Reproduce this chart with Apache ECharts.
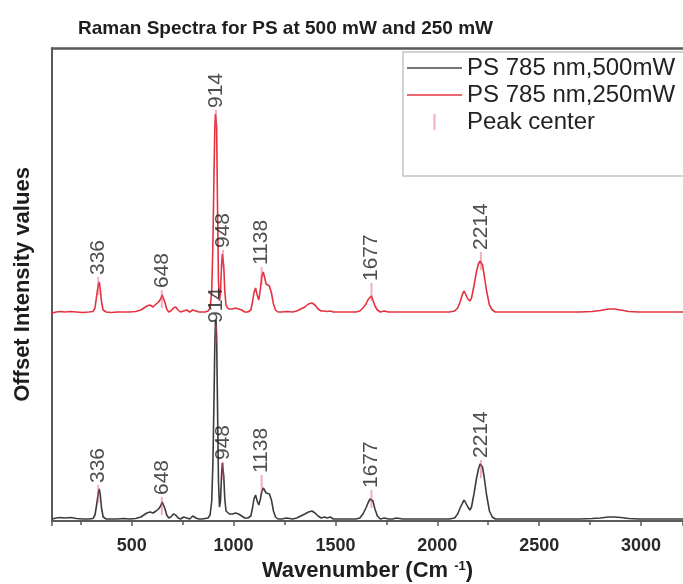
<!DOCTYPE html>
<html>
<head>
<meta charset="utf-8">
<script src="https://cdn.jsdelivr.net/npm/echarts@6/dist/echarts.min.js"></script>
<style>
html,body{margin:0;padding:0;background:#fff;}
#chart{width:683px;height:584px;}
</style>
</head>
<body>
<div id="chart"></div>
<script>
// ---- data ----
const seriesNames = ['PS 785 nm,500mW', 'PS 785 nm,250mW', 'Peak center'];

// [wavenumber, offset intensity] for 500 mW (lower trace)
const spectrum500 = [[109,2],[130,3],[150,3.5],[170,3],[200,3.5],[230,2.5],[260,2],[290,2],[310,2.5],[320,6],[328,16],[336,28],[341,32],[346,26],[352,13],[360,4],[375,2],[400,2],[430,2],[460,2.5],[490,2],[520,2.5],[545,4],[560,6],[575,8],[590,9],[605,8],[620,10],[632,12],[642,15],[650,19],[656,17],[664,12],[672,6],[682,3],[692,4],[705,7],[716,6],[728,3],[740,2],[755,4],[770,3],[785,2],[800,5],[815,3],[830,2],[845,2],[860,2.5],[875,3],[885,6],[893,20],[899,60],[904,120],[908,175],[911,198],[914,201],[917,185],[921,120],[926,40],[931,14],[936,20],[941,45],[945,58],[948,58],[952,45],[957,22],[963,10],[970,8],[980,7],[995,7],[1010,8],[1025,7],[1040,5],[1055,3],[1070,3],[1085,5],[1094,14],[1100,22],[1108,26],[1116,20],[1124,16],[1132,22],[1138,29],[1146,33],[1152,31],[1160,28],[1168,28],[1176,27],[1186,21],[1196,10],[1206,4],[1218,2],[1235,2],[1260,3],[1290,2],[1310,3],[1330,5],[1350,7],[1368,9],[1385,10],[1400,8],[1415,5],[1430,3],[1445,4],[1460,3],[1475,4],[1490,2],[1510,2],[1540,2],[1570,2],[1600,2],[1620,3],[1635,7],[1650,13],[1662,19],[1670,22],[1677,24],[1684,20],[1694,12],[1706,5],[1720,2],[1740,3],[1760,2],[1780,2],[1800,3],[1830,2],[1870,2],[1920,2],[1970,2],[2020,2],[2060,2],[2085,3],[2100,7],[2112,13],[2124,18],[2132,21],[2140,19],[2150,14],[2160,11],[2168,14],[2180,27],[2192,42],[2202,52],[2210,57],[2216,58],[2222,54],[2230,44],[2242,26],[2256,10],[2270,4],[2285,2],[2300,2],[2330,2],[2400,2],[2500,2],[2600,2],[2700,2],[2760,2.5],[2800,3],[2840,4],[2870,4],[2900,3.5],[2940,2.5],[2990,2],[3050,2],[3120,2],[3206,2]];

// [wavenumber, offset intensity] for 250 mW (upper trace, already offset)
const spectrum250 = [[109,208],[130,209],[150,209.5],[170,209],[200,209.5],[230,209],[260,208.5],[290,209],[310,209.5],[320,213],[328,225],[336,236],[341,239],[346,232],[352,219],[360,211],[375,209],[400,208.5],[430,209],[460,209],[490,209],[520,209.5],[545,211],[560,213],[575,215],[590,216],[605,214],[620,217],[632,219],[642,222],[650,226],[656,224],[664,218],[672,212],[682,209],[692,210],[705,213],[716,214],[728,211],[740,209],[755,210],[770,211],[785,209],[800,211],[815,210],[830,209],[845,209],[860,209],[875,210],[885,213],[893,230],[899,280],[904,345],[908,392],[911,407],[914,409],[917,395],[921,320],[926,240],[931,220],[936,228],[941,255],[945,267],[948,268],[952,255],[957,230],[963,216],[970,213],[980,212],[995,212],[1010,213],[1025,212],[1040,211],[1055,209],[1070,209],[1085,211],[1094,220],[1100,228],[1108,233],[1116,226],[1124,221],[1132,232],[1138,244],[1146,249],[1152,244],[1160,237],[1168,236],[1176,235],[1186,228],[1196,217],[1206,211],[1218,209],[1235,209],[1260,209.5],[1290,209],[1310,210],[1330,212],[1350,214],[1368,217],[1385,218],[1400,216],[1415,212],[1430,210],[1445,210],[1460,209.5],[1475,210],[1490,209],[1510,209],[1540,209],[1570,209],[1600,209],[1620,210],[1635,213],[1650,217],[1662,222],[1670,224],[1677,225],[1684,221],[1694,215],[1706,211],[1720,209],[1740,210],[1760,209],[1780,209],[1800,209],[1830,209],[1870,209],[1920,209],[1970,209],[2020,209],[2060,209],[2085,210],[2100,213],[2112,219],[2124,227],[2132,230],[2140,228],[2150,222],[2160,220],[2168,223],[2180,235],[2192,249],[2202,257],[2210,260],[2216,260],[2222,256],[2230,246],[2242,230],[2256,216],[2270,211],[2285,209],[2300,209],[2330,209],[2400,209],[2500,209],[2600,209],[2700,209],[2760,209.5],[2800,210.5],[2840,212],[2870,212],[2900,211],[2940,209.5],[2990,209],[3050,209],[3120,209],[3206,209]];

// peak centres and the heights at which their labels sit
const peakCenters = [336, 648, 914, 948, 1138, 1677, 2214];
const peakLabel500 = [36, 24, 196, 59, 46, 31, 61];
const peakLabel250 = [244, 231, 411, 271, 254, 238, 269];

// ---- chart ----
const peakPoints = peakCenters.map((x, i) => [x, peakLabel500[i]])
  .concat(peakCenters.map((x, i) => [x, peakLabel250[i]]));

const FONT = 'Liberation Sans, Arial, sans-serif';
const chart = echarts.init(document.getElementById('chart'), null, {renderer: 'canvas'});
const axisColor = '#5a5a5a';
const lineIcon = 'path://M0,0M55,16M0,7.2L55,7.2L55,8.8L0,8.8Z';
chart.setOption({
  animation: false,
  backgroundColor: '#ffffff',
  title: {
    text: 'Raman Spectra for PS at 500 mW and 250 mW',
    left: 73, top: 14,
    textStyle: {fontFamily: FONT, fontSize: 19, fontWeight: 'bold', color: '#1e1e1e'}
  },
  legend: {
    orient: 'vertical',
    left: 403, top: 52,
    padding: [4, 60, 42, 4],
    itemGap: 3,
    itemWidth: 55, itemHeight: 16,
    borderColor: '#c4c4c4', borderWidth: 1.5,
    backgroundColor: '#ffffff',
    textStyle: {fontFamily: FONT, fontSize: 24, color: '#222', lineHeight: 24},
    data: [
      {name: seriesNames[0], icon: lineIcon},
      {name: seriesNames[1], icon: lineIcon},
      {name: seriesNames[2], icon: 'path://M0,0M55,16M26.5,0L28.5,0L28.5,16L26.5,16Z'}
    ]
  },
  grid: {left: 52, right: 0, top: 48, bottom: 63, containLabel: false, outerBoundsMode: 'none'},
  xAxis: [{
    type: 'value', min: 109, max: 3206, position: 'bottom',
    name: 'Wavenumber (Cm {sup|-1})',
    nameLocation: 'middle', nameGap: 36,
    nameTextStyle: {fontFamily: FONT, fontSize: 22, fontWeight: 'bold', color: '#1e1e1e',
      rich: {sup: {fontFamily: FONT, fontSize: 13, fontWeight: 'bold', color: '#1e1e1e', verticalAlign: 'top', lineHeight: 22}}},
    axisLine: {show: true, lineStyle: {color: axisColor, width: 2}},
    axisTick: {show: true, inside: false, length: 5, lineStyle: {color: axisColor, width: 1.5}},
    minorTick: {show: true, splitNumber: 2, length: 4, lineStyle: {color: axisColor, width: 1.5}},
    splitLine: {show: false},
    axisLabel: {fontFamily: FONT, fontSize: 18, fontWeight: 'bold', color: '#2a2a2a', margin: 16,
      showMinLabel: false, showMaxLabel: false, formatter: v => String(v)}
  }, {
    type: 'value', min: 109, max: 3206, position: 'top',
    axisLine: {show: true, lineStyle: {color: axisColor, width: 2.5}},
    axisTick: {show: false}, axisLabel: {show: false}, splitLine: {show: false}
  }],
  yAxis: {
    type: 'value', min: 0, max: 473,
    name: 'Offset Intensity values',
    nameLocation: 'middle', nameGap: 18, nameRotate: 90,
    nameTextStyle: {fontFamily: FONT, fontSize: 22, fontWeight: 'bold', color: '#1e1e1e'},
    axisLine: {show: true, lineStyle: {color: axisColor, width: 2}},
    axisTick: {show: false}, axisLabel: {show: false}, splitLine: {show: false}
  },
  series: [{
    name: seriesNames[0], type: 'line', data: spectrum500,
    showSymbol: false, symbol: 'none',
    lineStyle: {color: '#3c3c3c', width: 1.6}, itemStyle: {color: '#4a4a4a'}, z: 2
  }, {
    name: seriesNames[1], type: 'line', data: spectrum250,
    showSymbol: false, symbol: 'none',
    lineStyle: {color: '#e4323f', width: 1.6}, itemStyle: {color: '#e4323f'}, z: 3
  }, {
    name: seriesNames[2], type: 'scatter', data: peakPoints,
    symbol: 'rect', symbolSize: [2, 18], symbolOffset: [0, 9],
    itemStyle: {color: 'rgba(225,70,105,0.55)'},
    z: 4,
    label: {
      show: true, position: 'top', distance: 2, rotate: 90,
      align: 'left', verticalAlign: 'middle',
      fontFamily: FONT, fontSize: 21, color: '#222',
      formatter: p => String(p.value[0])
    }
  }]
});
</script>
</body>
</html>
